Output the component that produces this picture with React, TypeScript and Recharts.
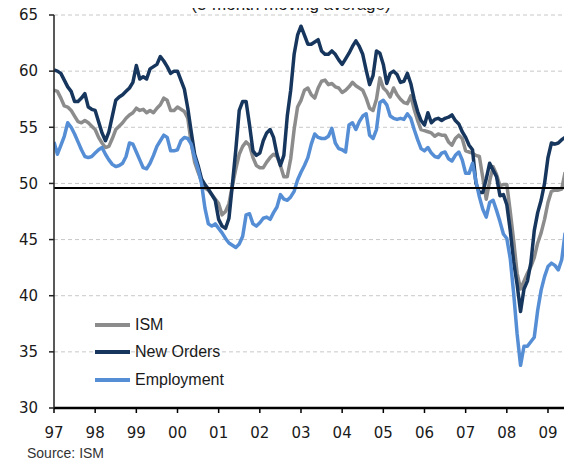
import React from 'react';
import { LineChart, Line, XAxis, YAxis, CartesianGrid, ReferenceLine, Legend } from 'recharts';

// Monthly values, Jan 1997 .. Jun 2009 (3-month moving average)
const yearLabels = ['97', '98', '99', '00', '01', '02', '03', '04', '05', '06', '07', '08', '09'];
const yTicks = [30, 35, 40, 45, 50, 55, 60, 65];

const ism = [
  58.3, 58.2, 57.6, 56.9, 56.8, 56.5, 56.0, 55.5, 55.4, 55.6, 55.4, 55.1,
  54.8, 54.1, 53.6, 53.2, 53.3, 54.0, 54.8, 55.1, 55.4, 55.8, 56.1, 56.3,
  56.7, 56.5, 56.6, 56.3, 56.5, 56.3, 56.7, 57.0, 57.6, 57.4, 56.5, 56.5,
  56.8, 56.6, 56.4, 55.8, 53.6, 51.9, 51.0, 50.2, 49.6, 49.4, 49.0, 48.6,
  48.2, 47.2, 47.5, 48.2, 49.8, 51.3, 52.6, 53.3, 53.7, 53.4, 52.3, 51.6,
  51.4, 51.4, 51.9, 52.3, 52.6, 52.4, 51.6, 50.6, 50.6, 52.2, 54.8, 56.8,
  57.4, 58.3, 58.5, 57.9, 57.6, 58.5, 59.1, 59.2, 58.8, 58.9, 58.6, 58.5,
  58.1, 58.3, 58.6, 59.0, 58.7, 58.5, 58.3, 57.6, 56.7, 56.5, 57.5, 59.4,
  58.5, 58.2, 57.7, 58.5, 57.9, 57.5, 57.2, 57.1, 57.8, 56.6, 55.6, 54.8,
  54.7, 54.6, 54.5, 54.2, 54.4, 54.3, 54.3, 53.7, 53.4, 54.0, 54.3, 54.0,
  52.9, 52.8, 52.7, 52.5, 52.4, 50.5, 48.6, 50.2, 51.5, 50.8, 49.8, 49.9,
  49.9, 47.5, 44.9, 42.0, 40.6, 41.3, 42.0, 42.6, 43.4, 44.7, 45.6, 46.8,
  48.3, 49.3, 49.4, 49.4, 49.5, 51.0,
];

const newOrders = [
  60.1, 60.0, 59.8, 59.2, 58.6, 58.2, 57.3, 57.3, 57.6, 58.0, 56.8, 56.6,
  56.5, 55.5, 54.5, 53.8, 54.6, 56.0, 57.4, 57.7, 57.9, 58.2, 58.5, 59.0,
  60.5, 59.3, 59.5, 59.3, 60.2, 60.4, 60.6, 61.3, 60.9, 60.4, 59.8, 60.0,
  60.0, 59.2, 58.4, 56.7, 54.6, 52.6, 51.6, 50.4, 49.9, 49.5, 49.0, 48.5,
  46.8, 46.2, 46.0, 46.9, 49.9, 53.0, 56.5, 57.3, 57.3, 55.2, 52.9, 52.5,
  52.7, 53.8, 54.5, 54.8, 54.1, 52.6, 51.6, 52.5, 56.0, 58.3, 61.5, 63.2,
  64.0, 63.2, 62.4, 62.4, 62.6, 62.8, 61.8, 61.5, 61.5, 61.8, 61.5, 61.0,
  60.6, 61.1, 61.6, 62.2, 62.7, 62.2, 61.5, 60.1, 58.8, 59.6, 61.8, 61.6,
  60.6, 58.9, 59.8, 60.0, 59.7, 59.0, 59.1, 59.8, 58.9, 57.5, 56.4, 55.6,
  55.2, 56.3, 55.4, 55.7, 55.8, 55.6, 55.8, 55.9, 56.1, 55.6, 55.3, 54.6,
  54.1, 53.4, 53.0, 50.0, 49.2, 49.2, 50.4, 51.8, 51.2, 50.6, 48.9, 49.0,
  48.1, 45.8, 43.0, 41.0, 38.6, 40.6, 41.3, 42.9, 45.8, 47.4, 48.5, 50.0,
  52.3, 53.6, 53.5, 53.6, 53.9, 54.1,
];

const employment = [
  53.7, 52.6, 53.4, 54.2, 55.4, 55.0, 54.4, 53.7, 53.0, 52.4, 52.3, 52.4,
  52.7, 53.0, 53.2, 52.6, 52.1, 51.7, 51.5, 51.6, 51.8, 52.4, 53.6, 53.5,
  52.8, 52.1, 51.4, 51.3, 51.8, 52.5, 53.3, 53.8, 54.3, 54.1, 52.9, 52.9,
  53.0, 53.8, 54.1, 54.0, 53.5, 52.3, 51.3, 50.0, 47.8, 46.4, 46.2, 46.4,
  46.0, 45.6, 45.1, 44.7, 44.5, 44.3, 44.6, 45.3, 47.2, 47.3, 46.4, 46.2,
  46.5, 46.9, 47.0, 46.8, 47.4, 47.9, 49.0, 48.6, 48.5, 48.8, 49.3, 50.3,
  51.0, 51.6, 52.3, 53.5, 54.4, 54.1, 54.0, 54.0, 54.2, 54.9, 53.6, 53.1,
  53.0, 52.8, 55.2, 55.4, 54.8, 55.5, 56.0, 56.2, 54.3, 54.0, 54.8, 57.2,
  57.4, 57.0, 56.0, 55.8, 55.7, 55.8, 55.7, 56.2, 55.8, 54.8, 53.9, 53.1,
  52.9, 53.2, 52.7, 52.4, 52.3, 52.7, 52.8, 52.2, 52.0, 52.5, 52.8, 52.1,
  50.9, 50.9, 51.8, 50.2, 48.8, 47.7, 47.0, 48.3, 48.5, 47.6, 46.6, 45.5,
  45.1, 43.3, 40.2, 36.6, 33.8, 35.5, 35.5, 35.9, 36.3, 38.7, 40.5, 41.7,
  42.6, 42.9, 42.7, 42.3, 43.2, 45.6,
];

const seriesNames = ['ISM', 'New Orders', 'Employment'];
const seriesColors = ['#8c8c8c', '#17365d', '#558ed5'];
const referenceLevel = 49.6;

const data = ism.map((v, i) => ({
  m: i,
  ism: v,
  newOrders: newOrders[i],
  employment: employment[i],
}));

const xTicks = yearLabels.map((_, i) => i * 12);

const LegendContent = () => (
  <div style={{ fontFamily: 'Liberation Sans, Arial, sans-serif', fontSize: 16, color: '#1a1a1a' }}>
    {seriesNames.map((name, i) => (
      <div key={name} style={{ display: 'flex', alignItems: 'center', height: 27.5 }}>
        <span style={{ display: 'inline-block', width: 35, height: 4, background: seriesColors[i], marginRight: 5 }} />
        <span>{name}</span>
      </div>
    ))}
  </div>
);

export default function App() {
  return (
    <div style={{ position: 'relative', width: 564, height: 454 }}>
      <div
        style={{
          position: 'absolute',
          left: 133,
          top: -12.5,
          width: 300,
          textAlign: 'center',
          fontFamily: 'Liberation Sans, Arial, sans-serif',
          fontSize: 17,
          lineHeight: '17px',
          color: '#1a1a1a',
          whiteSpace: 'nowrap',
        }}
      >
        (3-month moving average)
      </div>
      <LineChart width={564} height={454} data={data} margin={{ top: 7, right: 0, left: 0, bottom: 24 }}>
        <CartesianGrid vertical={false} stroke="#c8c8c8" strokeDasharray="4 3" />
        <XAxis
          dataKey="m"
          type="number"
          domain={[0, 151]}
          ticks={xTicks}
          tickFormatter={(v: number) => yearLabels[Math.round(v / 12)]}
          height={30}
          tickSize={5}
          tickMargin={14}
          axisLine={{ stroke: '#000', strokeWidth: 2.5 }}
          tickLine={{ stroke: '#000', strokeWidth: 1.5 }}
          tick={{ fill: '#1a1a1a', fontSize: 15, fontFamily: 'DejaVu Sans, sans-serif' }}
          interval={0}
          allowDataOverflow
        />
        <YAxis
          type="number"
          domain={[30, 65]}
          ticks={yTicks}
          width={46}
          tickSize={5}
          tickMargin={11}
          axisLine={{ stroke: '#222', strokeWidth: 1.5 }}
          tickLine={{ stroke: '#222', strokeWidth: 1.5 }}
          tick={{ fill: '#1a1a1a', fontSize: 15, fontFamily: 'DejaVu Sans, sans-serif' }}
          interval={0}
          allowDataOverflow
        />
        <Line dataKey="ism" name="ISM" stroke={seriesColors[0]} strokeWidth={3.5} dot={false} isAnimationActive={false} strokeLinejoin="round" />
        <Line dataKey="newOrders" name="New Orders" stroke={seriesColors[1]} strokeWidth={3.5} dot={false} isAnimationActive={false} strokeLinejoin="round" />
        <Line dataKey="employment" name="Employment" stroke={seriesColors[2]} strokeWidth={3.5} dot={false} isAnimationActive={false} strokeLinejoin="round" />
        <ReferenceLine y={referenceLevel} stroke="#000" strokeWidth={2} />
        <Legend
          layout="vertical"
          align="center"
          verticalAlign="middle"
          content={<LegendContent />}
          wrapperStyle={{ left: 87, top: 303, width: 200 }}
        />
      </LineChart>
      <div
        style={{
          position: 'absolute',
          left: 19,
          top: 437,
          fontFamily: 'Liberation Sans, Arial, sans-serif',
          fontSize: 14,
          lineHeight: '16px',
          color: '#333',
          whiteSpace: 'nowrap',
        }}
      >
        Source: ISM
      </div>
    </div>
  );
}
